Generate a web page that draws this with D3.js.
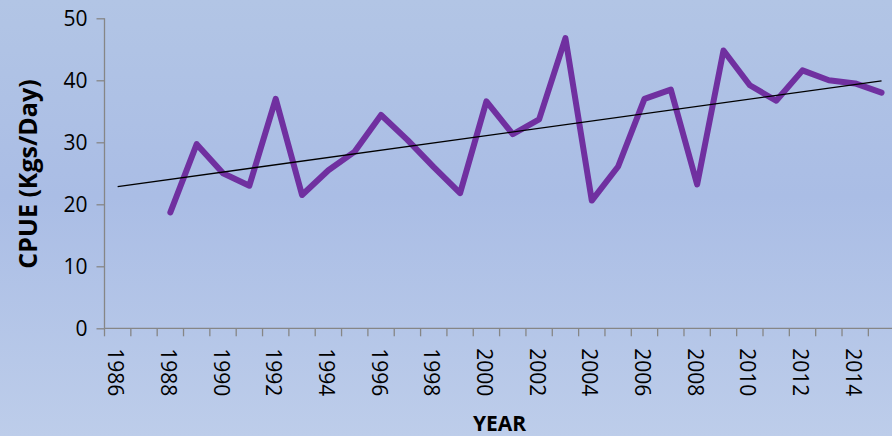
<!DOCTYPE html>
<html>
<head>
<meta charset="utf-8">
<script src="https://cdn.jsdelivr.net/npm/d3@7"></script>
<style>
  html, body { margin: 0; padding: 0; overflow: hidden; }
  svg { display: block; }
</style>
</head>
<body>
<script>
// Catch per unit effort by year
const years = d3.range(1986, 2016);
const dataYears = [1988, 1989, 1990, 1991, 1992, 1993, 1994, 1995, 1996, 1997,
  1998, 1999, 2000, 2001, 2002, 2003, 2004, 2005, 2006, 2007,
  2008, 2009, 2010, 2011, 2012, 2013, 2014, 2015];
const cpue = [18.7, 29.7, 25.0, 23.0, 37.0, 21.5, 25.5, 28.5, 34.4, 30.4,
  26.0, 21.8, 36.6, 31.3, 33.7, 46.8, 20.6, 26.1, 37.0, 38.5,
  23.2, 44.8, 39.2, 36.7, 41.6, 40.0, 39.5, 38.0];
const yTicks = [0, 10, 20, 30, 40, 50];
const xTickLabels = years.filter(y => y % 2 === 0);

const W = 892, H = 436;
const plotLeft = 104.5, plotRight = 894.7, plotTop = 18.3, plotBottom = 328.3;

const svg = d3.select("body").append("svg").attr("width", W).attr("height", H);

const defs = svg.append("defs");
const grad = defs.append("linearGradient").attr("id", "bg").attr("x1", 0).attr("y1", 0).attr("x2", 0).attr("y2", 1);
grad.append("stop").attr("offset", "0%").attr("stop-color", "#b2c5e5");
grad.append("stop").attr("offset", "45%").attr("stop-color", "#aabde5");
grad.append("stop").attr("offset", "100%").attr("stop-color", "#bdcdea");
svg.append("rect").attr("width", W).attr("height", H).attr("fill", "url(#bg)");

const x = d3.scaleBand().domain(years).range([plotLeft, plotRight]).paddingInner(0).paddingOuter(0);
const xc = yr => x(yr) + x.bandwidth() / 2;
const y = d3.scaleLinear().domain([0, 50]).range([plotBottom, plotTop]);

const font = "'Open Sans', 'Liberation Sans', sans-serif";
const axisColor = "#868686";

// Y axis
const yAxis = svg.append("g").attr("transform", `translate(${plotLeft},0)`)
  .call(d3.axisLeft(y).tickValues(yTicks).tickSize(8).tickPadding(9));
yAxis.selectAll("path, line").attr("stroke", axisColor).attr("stroke-width", 1.3);
yAxis.select(".domain").attr("d", `M0,${plotTop}V${plotBottom}`);
yAxis.selectAll("text").attr("font-family", font).attr("font-size", 21).attr("fill", "#000");

// X axis: ticks on category boundaries
const xAxisG = svg.append("g").attr("transform", `translate(0,${plotBottom})`);
xAxisG.append("line").attr("x1", plotLeft).attr("x2", plotRight).attr("stroke", axisColor).attr("stroke-width", 1.3);
xAxisG.selectAll("line.tick").data(years.concat([years[years.length - 1] + 1]))
  .enter().append("line").attr("class", "tick")
  .attr("x1", (d, i) => plotLeft + i * x.bandwidth())
  .attr("x2", (d, i) => plotLeft + i * x.bandwidth())
  .attr("y1", 0).attr("y2", 8)
  .attr("stroke", axisColor).attr("stroke-width", 1.3);
xAxisG.selectAll("text").data(xTickLabels).enter().append("text")
  .attr("transform", d => `translate(${xc(d) - 1.5},20) rotate(90)`)
  .attr("dominant-baseline", "central")
  .attr("font-family", font).attr("font-size", 21).attr("fill", "#000")
  .text(d => d);

// Axis titles
svg.append("text")
  .attr("transform", `translate(37,174) rotate(-90)`)
  .attr("text-anchor", "middle")
  .attr("font-family", font).attr("font-weight", "bold").attr("font-size", 25).attr("fill", "#000")
  .text("CPUE (Kgs/Day)");
svg.append("text")
  .attr("x", (plotLeft + plotRight) / 2).attr("y", 431)
  .attr("text-anchor", "middle")
  .attr("font-family", font).attr("font-weight", "bold").attr("font-size", 21).attr("fill", "#000")
  .text("YEAR");

// Data line
const pts = dataYears.map((yr, i) => ({ yr, v: cpue[i] }));
svg.append("path").datum(pts)
  .attr("fill", "none").attr("stroke", "#7030a0").attr("stroke-width", 6)
  .attr("stroke-linejoin", "round").attr("stroke-linecap", "round")
  .attr("d", d3.line().x(d => xc(d.yr)).y(d => y(d.v)));

// Linear trend (least squares over category index)
const idx = pts.map(p => years.indexOf(p.yr));
const mx = d3.mean(idx), my = d3.mean(cpue);
const slope = d3.sum(idx, (k, i) => (k - mx) * (cpue[i] - my)) / d3.sum(idx, k => (k - mx) ** 2);
const icpt = my - slope * mx;
const trend = [years[0], years[years.length - 1]].map(yr => ({ yr, v: icpt + slope * years.indexOf(yr) }));
svg.append("path").datum(trend)
  .attr("fill", "none").attr("stroke", "#000").attr("stroke-width", 1.3)
  .attr("d", d3.line().x(d => xc(d.yr)).y(d => y(d.v)));
</script>
</body>
</html>
